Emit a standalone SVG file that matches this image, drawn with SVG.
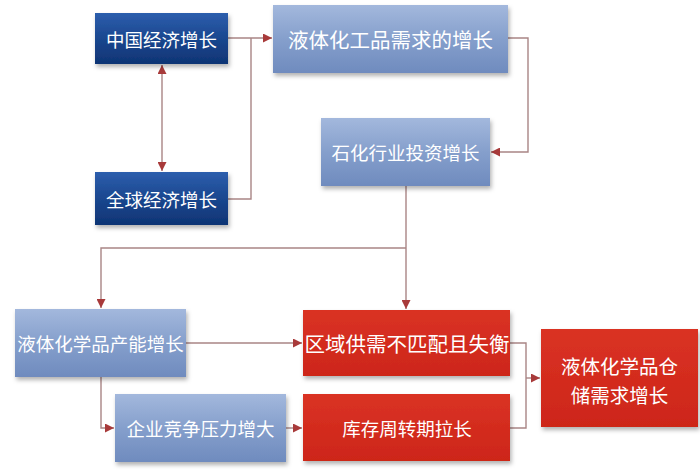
<svg xmlns="http://www.w3.org/2000/svg" width="700" height="470" viewBox="0 0 700 470">
<style>
.t{font-family:"Noto Sans CJK SC","Noto Sans",sans-serif;fill:#ffffff;text-anchor:middle;dominant-baseline:central}
.s{font-size:18.5px}
.l{font-size:20.5px}
.c{fill:none;stroke:#A98585;stroke-width:1.4}
</style>
<defs>
<linearGradient id="dk" x1="0" y1="0" x2="0" y2="1">
<stop offset="0" stop-color="#2D5EAD"/><stop offset="0.5" stop-color="#1A478F"/><stop offset="1" stop-color="#0F3474"/>
</linearGradient>
<linearGradient id="lt" x1="0" y1="0" x2="0" y2="1">
<stop offset="0" stop-color="#A3B8DD"/><stop offset="0.5" stop-color="#859FCC"/><stop offset="1" stop-color="#6F8BBE"/>
</linearGradient>
<linearGradient id="rd" x1="0" y1="0" x2="0" y2="1">
<stop offset="0" stop-color="#DA3224"/><stop offset="1" stop-color="#CD2619"/>
</linearGradient>
<filter id="sh" x="-10%" y="-10%" width="125%" height="135%">
<feDropShadow dx="1.5" dy="3" stdDeviation="2" flood-color="#000" flood-opacity="0.3"/>
</filter>
<marker id="ah" viewBox="0 0 10 10" refX="10" refY="5" markerWidth="9" markerHeight="9" markerUnits="userSpaceOnUse" orient="auto-start-reverse">
<path d="M0,0 L10,5 L0,10 z" fill="#A83A3A"/>
</marker>
</defs>
<rect width="700" height="470" fill="#ffffff"/>
<g id="connectors">
<path class="c" d="M228,38 H272" marker-end="url(#ah)"/>
<path class="c" d="M228,199 H251 V38"/>
<path class="c" d="M162,65 V171" marker-start="url(#ah)" marker-end="url(#ah)"/>
<path class="c" d="M508,38 H528 V152 H491" marker-end="url(#ah)"/>
<path class="c" d="M406,186 V309" marker-end="url(#ah)"/>
<path class="c" d="M406,248 H101 V308" marker-end="url(#ah)"/>
<path class="c" d="M101,377 V428 H114" marker-end="url(#ah)"/>
<path class="c" d="M186,343 H302" marker-end="url(#ah)"/>
<path class="c" d="M286,428 H302" marker-end="url(#ah)"/>
<path class="c" d="M510,343 H526 V428 H510"/>
<path class="c" d="M526,378 H540" marker-end="url(#ah)"/>
</g>
<g id="n1"><rect x="95" y="13" width="133" height="51" fill="url(#dk)" filter="url(#sh)"/><text class="t s" x="161.5" y="38.5">中国经济增长</text></g>
<g id="n2"><rect x="95" y="172" width="133" height="53" fill="url(#dk)" filter="url(#sh)"/><text class="t s" x="161.5" y="198.5">全球经济增长</text></g>
<g id="n3"><rect x="273" y="5" width="235" height="68" fill="url(#lt)" filter="url(#sh)"/><text class="t l" x="390.5" y="38.5">液体化工品需求的增长</text></g>
<g id="n4"><rect x="321" y="118" width="169" height="68" fill="url(#lt)" filter="url(#sh)"/><text class="t s" x="405.5" y="152">石化行业投资增长</text></g>
<g id="n5"><rect x="15" y="309" width="171" height="68" fill="url(#lt)" filter="url(#sh)"/><text class="t s" x="100.5" y="343">液体化学品产能增长</text></g>
<g id="n6"><rect x="115" y="394" width="171" height="68" fill="url(#lt)" filter="url(#sh)"/><text class="t s" x="200.5" y="428">企业竞争压力增大</text></g>
<g id="n7"><rect x="303" y="310" width="207" height="66" fill="url(#rd)" filter="url(#sh)"/><text class="t l" x="407" y="343">区域供需不匹配且失衡</text></g>
<g id="n8"><rect x="303" y="394" width="207" height="67" fill="url(#rd)" filter="url(#sh)"/><text class="t s" x="407" y="427.5">库存周转期拉长</text></g>
<g id="n9"><rect x="541" y="329" width="157" height="98" fill="url(#rd)" filter="url(#sh)"/><text class="t" style="font-size:19.5px" x="619.5" y="365"><tspan x="619.5" y="364.5">液体化学品仓</tspan><tspan x="619.5" y="393.5">储需求增长</tspan></text></g>
</svg>
